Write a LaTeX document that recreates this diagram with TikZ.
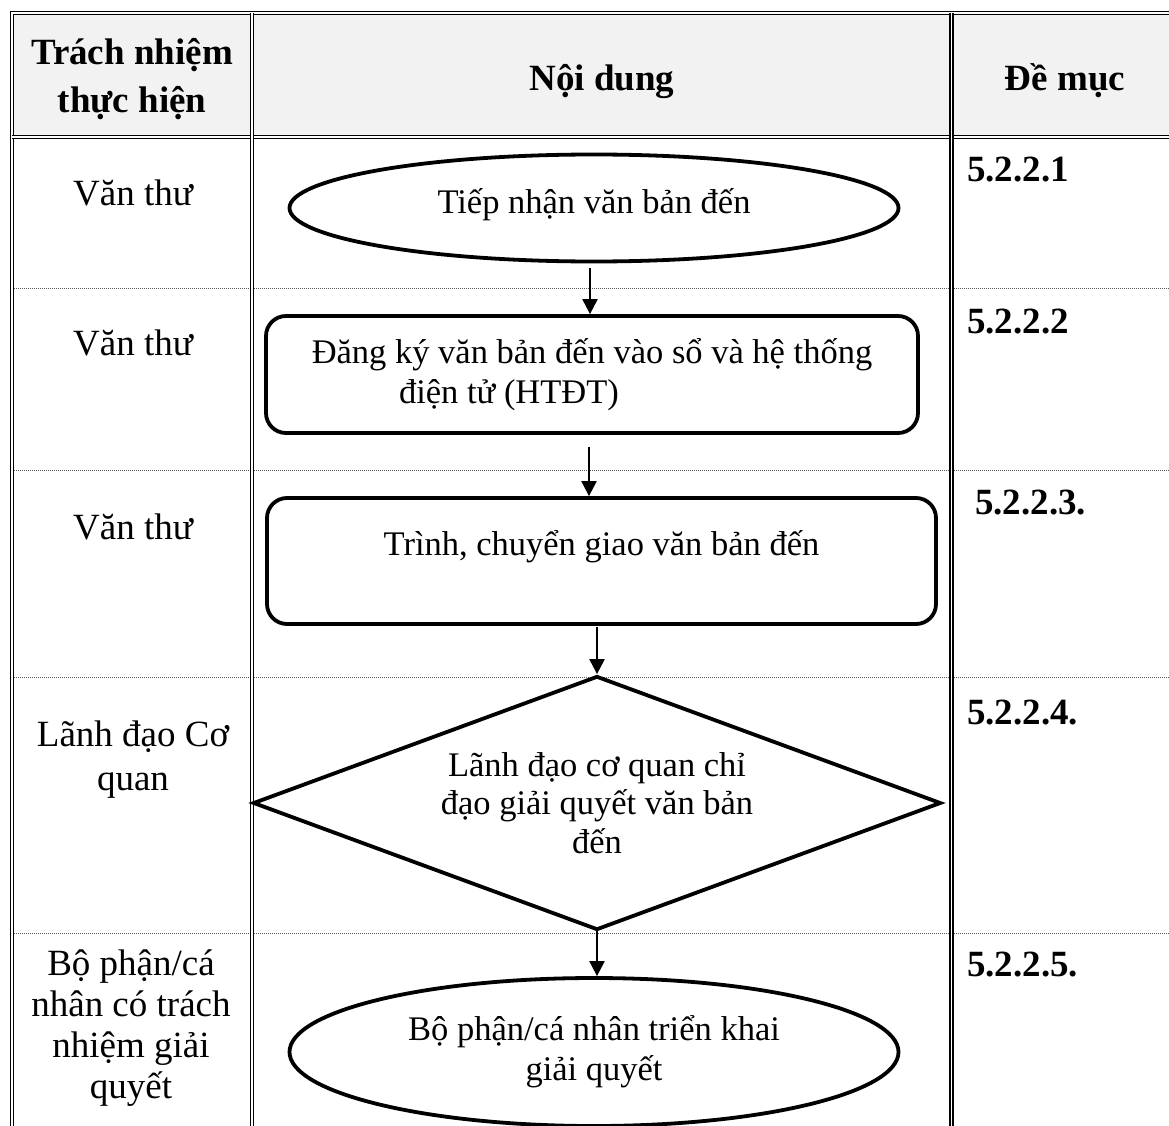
\documentclass[tikz,border=0pt]{standalone}
\usepackage{fontspec}
\setmainfont{Liberation Serif}
\usetikzlibrary{shapes.geometric,arrows.meta}
\definecolor{hdr}{HTML}{F2F2F2}
\newcommand\flfont{\fontsize{34.5}{40}\selectfont}
\newcommand\tbfont{\fontsize{37}{41}\selectfont}
\newcommand\hdfont{\fontsize{37}{48}\selectfont\bfseries}
\begin{document}
\begin{tikzpicture}[x=1pt,y=-1pt,
  tbl/.style={double,double distance=1.7pt,line width=1.5pt},
  rowsep/.style={line width=0.8pt,dash pattern=on 1pt off 1pt,black!65},
  shp/.style={draw,line width=3.8pt,align=center,font=\flfont,inner sep=0pt},
  oval/.style={shp,ellipse},
  rbox/.style={shp,rectangle,rounded corners=20pt},
  dia/.style={shp,diamond,shape aspect=2.7},
  arr/.style={-{Triangle[width=15pt,length=15pt]},line width=2.2pt},
  celltxt/.style={font=\tbfont,align=center,inner sep=0pt},
  numtxt/.style={font=\tbfont\bfseries,anchor=west,inner sep=0pt}
]
\useasboundingbox (0,0) rectangle (1169,1126);
% header background
\fill[hdr] (12,13) rectangle (1175,137);
% dotted row separators
\foreach \yy in {288,470,677,933} \draw[rowsep] (14,\yy) -- (1175,\yy);
% table lines
\draw[tbl] (1175,13) -- (12,13) -- (12,1135);
\draw[tbl] (12,137) -- (1175,137);
\draw[tbl] (252,13) -- (252,1135);
\draw[tbl] (951.5,13) -- (951.5,1135);
% header
\node[celltxt,font=\hdfont] (h1) at (132,79) {Trách nhiệm\\thực hiện};
\node[celltxt,font=\hdfont] (h2) at (602,82) {Nội dung};
\node[celltxt,font=\hdfont] (h3) at (1065,81) {Đề mục};
% left column
\node[celltxt] (t1) at (133,193) {Văn thư};
\node[celltxt] (t2) at (133,343) {Văn thư};
\node[celltxt] (t3) at (133,527) {Văn thư};
\node[celltxt,font=\fontsize{37}{44}\selectfont] (t4) at (133,760) {Lãnh đạo Cơ\\quan};
\node[celltxt] (t5) at (131,1028) {Bộ phận/cá\\nhân có trách\\nhiệm giải\\quyết};
% right column
\node[numtxt] (n1) at (967,170) {5.2.2.1};
\node[numtxt] (n2) at (967,322) {5.2.2.2};
\node[numtxt] (n3) at (975,503) {5.2.2.3.};
\node[numtxt] (n4) at (967,713) {5.2.2.4.};
\node[numtxt] (n5) at (967,965) {5.2.2.5.};
% flowchart
\node[oval,minimum width=609pt,minimum height=107pt,text depth=14pt] (e1) at (594,208) {Tiếp nhận văn bản đến};
\node[rbox,minimum width=652pt,minimum height=117pt] (b2) at (592,374.5) {Đăng ký văn bản đến vào sổ và hệ thống\\điện tử (HTĐT)\hspace*{166pt}};
\node[rbox,minimum width=669pt,minimum height=126pt,text depth=36pt] (b3) at (601.5,561) {Trình, chuyển giao văn bản đến};
\node[dia,minimum width=688pt,minimum height=254pt,font=\fontsize{34.5}{38.5}\selectfont] (d4) at (597,803) {Lãnh đạo cơ quan chỉ\\đạo giải quyết văn bản\\đến};
\node[oval,minimum width=609pt,minimum height=148pt] (e5) at (594,1052) {Bộ phận/cá nhân triển khai\\giải quyết};
% connectors
\coordinate (s1) at (590,268);
\coordinate (s2) at (589,447);
\coordinate (s3) at (597,627);
\coordinate (s4) at (597,930);
\draw[arr] (s1) -- (s1 |- b2.north);
\draw[arr] (s2) -- (s2 |- b3.north);
\draw[arr] (s3) -- (d4.north);
\draw[arr] (s4) -- (s4 |- e5.north);
\end{tikzpicture}
\end{document}
